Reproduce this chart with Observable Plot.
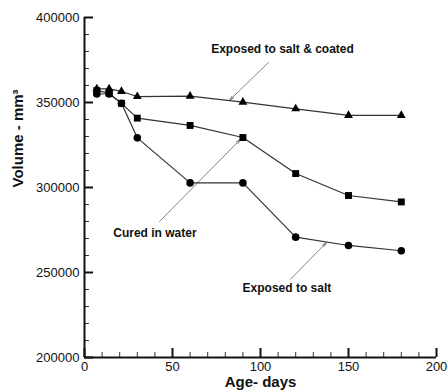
<!DOCTYPE html>
<html>
<head>
<meta charset="utf-8">
<script src="https://cdn.jsdelivr.net/npm/d3@7"></script>
<script src="https://cdn.jsdelivr.net/npm/@observablehq/plot@0.6"></script>
<style>
  html, body { margin: 0; padding: 0; background: #fff; }
  #chart svg { display: block; }
</style>
</head>
<body>
<div id="chart"></div>
<script>
// ---- data ----
const days = [7, 14, 21, 30, 60, 90, 120, 150, 180];
const coated = [358000, 358000, 356500, 353500, 353700, 350200, 346300, 342400, 342400];
const water  = [357000, 355500, 349500, 340800, 336500, 329400, 308200, 295300, 291500];
const salt   = [355000, 355000, 349500, 329200, 302700, 302700, 270800, 265900, 262800];

const xMajor = [0, 50, 100, 150, 200];
const xMinor = [10, 20, 30, 40, 60, 70, 80, 90, 110, 120, 130, 140, 160, 170, 180, 190];
const yMajor = [200000, 250000, 300000, 350000, 400000];
const yMinor = [210000, 220000, 230000, 240000, 260000, 270000, 280000, 290000,
                310000, 320000, 330000, 340000, 360000, 370000, 380000, 390000];

const labelTexts = ["Exposed to salt & coated", "Cured in water", "Exposed to salt"];
const labelX = [112.5, 40, 115];
const labelY = [381500, 273000, 240800];
const arrowFromX = [104.5, 42.6, 117];
const arrowFromY = [373500, 280000, 246000];
const arrowToX = [82.4, 88.6, 137.5];
const arrowToY = [351300, 328300, 267600];

// ---- tables ----
const series = [
  {name: "coated", vals: coated, symbol: "triangle", r: 3.3},
  {name: "water", vals: water, symbol: "square", r: 3.9},
  {name: "salt", vals: salt, symbol: "circle", r: 3.8}
];
const rows = series.flatMap(s => days.map((d, i) => ({series: s.name, day: d, v: s.vals[i], symbol: s.symbol, r: s.r})));
const labels = labelTexts.map((t, i) => ({t, x: labelX[i], y: labelY[i]}));
const arrows = labelTexts.map((t, i) => ({x1: arrowFromX[i], y1: arrowFromY[i], x2: arrowToX[i], y2: arrowToY[i]}));

const fontFam = "'Liberation Sans', Arial, Helvetica, sans-serif";

const chart = Plot.plot({
  width: 448,
  height: 392,
  marginLeft: 84,
  marginRight: 12,
  marginTop: 17,
  marginBottom: 35,
  style: {fontFamily: fontFam, fontSize: "13px", color: "#111", background: "#fff"},
  x: {domain: [0, 200]},
  y: {domain: [200000, 400000]},
  marks: [
    // y axis: labels, then major & minor ticks pointing inward
    Plot.axisY(yMajor, {tickSize: 0, tickPadding: 5, tickFormat: d => String(d), label: null, fontSize: 13}),
    Plot.axisY(yMajor, {tickSize: 9, dx: 9, tickFormat: () => "", label: null, strokeWidth: 2, stroke: "#111"}),
    Plot.axisY(yMinor, {tickSize: 5, dx: 5, tickFormat: () => "", label: null, strokeWidth: 1, stroke: "#333"}),
    // x axis
    Plot.axisX(xMajor, {tickSize: 0, tickPadding: 4, label: null, fontSize: 13}),
    Plot.axisX(xMajor, {tickSize: 9, dy: -9, tickFormat: () => "", label: null, strokeWidth: 2, stroke: "#111"}),
    Plot.axisX(xMinor, {tickSize: 5, dy: -5, tickFormat: () => "", label: null, strokeWidth: 1, stroke: "#333"}),
    // axis lines
    Plot.ruleX([0], {strokeWidth: 2, stroke: "#111"}),
    Plot.ruleY([200000], {strokeWidth: 2, stroke: "#111"}),
    // axis titles
    Plot.text(["Age- days"], {frameAnchor: "bottom", dy: 29, fontWeight: "bold", fontSize: 15, fill: "#111"}),
    Plot.text(["Volume - mm³"], {frameAnchor: "left", rotate: -90, dx: -66, fontWeight: "bold", fontSize: 15, fill: "#111"}),
    // annotations
    Plot.arrow(arrows, {x1: "x1", y1: "y1", x2: "x2", y2: "y2", stroke: "#777", strokeWidth: 0.9, headLength: 8, headAngle: 30}),
    Plot.text(labels, {x: "x", y: "y", text: "t", fontWeight: "bold", fontSize: 12, fill: "#111"}),
    // series
    Plot.line(rows, {x: "day", y: "v", z: "series", stroke: "#333", strokeWidth: 1.2}),
    Plot.dot(rows, {x: "day", y: "v", symbol: "symbol", r: "r", fill: "#000", stroke: "none"})
  ],
  symbol: {type: "identity"},
  r: {type: "identity"}
});
document.getElementById("chart").appendChild(chart);
</script>
</body>
</html>
